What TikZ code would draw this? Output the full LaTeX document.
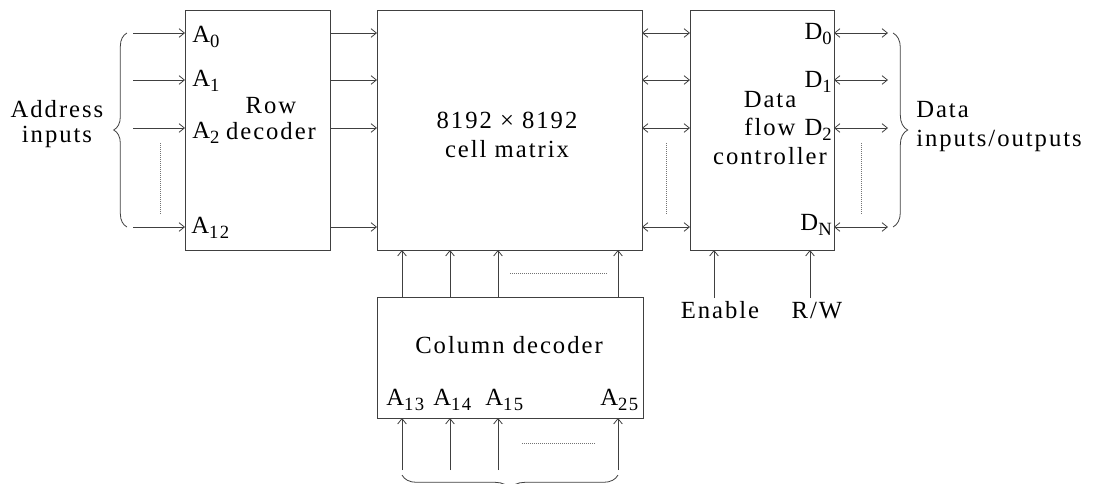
\documentclass[tikz,border=0pt]{standalone}
\usepackage{fontspec}
\setmainfont{Liberation Serif}[LetterSpace=8]
\usetikzlibrary{arrows.meta, decorations.pathreplacing, positioning}
\newcommand\sub[1]{\raisebox{-0.5ex}{\fontsize{14}{14}\selectfont #1}}

\begin{document}
\begin{tikzpicture}[x=0.75pt, y=-0.75pt, font=\fontsize{18.5}{20}\selectfont,
    >={Straight Barb[length=4pt, width=6.5pt]}]
    \tikzset{
        blk/.style={draw=black!75, line width=0.7pt, inner sep=0pt, outer sep=0pt},
        arr/.style={->, draw=black!75, line width=0.6pt},
        darr/.style={<->, draw=black!75, line width=0.6pt},
        dots/.style={densely dotted, draw=black!55, line width=0.5pt},
        brc/.style={decorate, decoration={brace, amplitude=#1}, draw=black!75, line width=0.6pt},
        lbl/.style={inner sep=0pt, anchor=base west},
        rlbl/.style={inner sep=0pt, anchor=base east},
        txt/.style={inner sep=0pt, align=center},
    }
    \useasboundingbox (0,0) rectangle (1101,483);

    \node[blk, minimum width=108.75pt, minimum height=180pt] (rowdec) at (257.5,130) {};
    \node[blk, minimum width=198.75pt, minimum height=180pt] (mat) at (509.5,130) {};
    \node[blk, minimum width=108pt, minimum height=180pt] (ctrl) at (762,130) {};
    \node[blk, minimum width=199.5pt, minimum height=90.75pt] (col) at (510,357.5) {};

    \node[txt, font=\fontsize{18.5}{19.5}\selectfont] (rowtxt) at (271,119) {Row\\decoder};
    \node[txt, font=\fontsize{18.5}{21.75}\selectfont] (mattxt) at (507,135) {8192 × 8192\\cell matrix};
    \node[txt, font=\fontsize{18.5}{21.4}\selectfont] (ctrltxt) at (770,128) {Data\\flow\\controller};
    \node[txt, anchor=base] (coltxt) at (509,353) {Column decoder};
    \node[txt, font=\fontsize{18.5}{18.75}\selectfont] (addr) at (57,124) {Address\\inputs};
    \node[txt, align=left, anchor=west, font=\fontsize{18.5}{21.75}\selectfont] (data) at (916,127) {Data\\inputs/outputs};

    \node[lbl] (la0) at (192,42) {A\sub{0}};
    \node[lbl] (la1) at (192,86) {A\sub{1}};
    \node[lbl] (la2) at (192,138) {A\sub{2}};
    \node[lbl] (la12) at (191,233) {A\sub{12}};

    \node[rlbl] (ld0) at (832,39) {D\sub{0}};
    \node[rlbl] (ld1) at (832,87) {D\sub{1}};
    \node[rlbl] (ld2) at (832,135) {D\sub{2}};
    \node[rlbl] (ldn) at (832,230) {D\sub{N}};

    \node[lbl] (la13) at (386,405) {A\sub{13}};
    \node[lbl] (la14) at (433,405) {A\sub{14}};
    \node[lbl] (la15) at (485,405) {A\sub{15}};
    \node[lbl] (la25) at (600,405) {A\sub{25}};

    \node[txt, anchor=base] (en) at (720,318) {Enable};
    \node[txt, anchor=base] (rw) at (817,318) {R/W};

    \coordinate (in0) at (133,33);
    \coordinate (in1) at (133,80);
    \coordinate (in2) at (133,128);
    \coordinate (in3) at (133,227);
    \coordinate (out0) at (888,33);
    \coordinate (out1) at (888,80);
    \coordinate (out2) at (888,128);
    \coordinate (out3) at (888,227);
    \coordinate (c0) at (402,470);
    \coordinate (c1) at (450,470);
    \coordinate (c2) at (498,470);
    \coordinate (c3) at (618,470);
    \coordinate (enin) at (714,298);
    \coordinate (rwin) at (810,298);

    \draw[arr] (in0) -- (in0 -| rowdec.west);
    \draw[arr] (in1) -- (in1 -| rowdec.west);
    \draw[arr] (in2) -- (in2 -| rowdec.west);
    \draw[arr] (in3) -- (in3 -| rowdec.west);

    \draw[arr] (rowdec.east |- in0) -- (mat.west |- in0);
    \draw[arr] (rowdec.east |- in1) -- (mat.west |- in1);
    \draw[arr] (rowdec.east |- in2) -- (mat.west |- in2);
    \draw[arr] (rowdec.east |- in3) -- (mat.west |- in3);

    \draw[darr] (mat.east |- in0) -- (ctrl.west |- in0);
    \draw[darr] (mat.east |- in1) -- (ctrl.west |- in1);
    \draw[darr] (mat.east |- in2) -- (ctrl.west |- in2);
    \draw[darr] (mat.east |- in3) -- (ctrl.west |- in3);

    \draw[darr] (out0 -| ctrl.east) -- (out0);
    \draw[darr] (out1 -| ctrl.east) -- (out1);
    \draw[darr] (out2 -| ctrl.east) -- (out2);
    \draw[darr] (out3 -| ctrl.east) -- (out3);

    \draw[arr] (c0 |- col.north) -- (c0 |- mat.south);
    \draw[arr] (c1 |- col.north) -- (c1 |- mat.south);
    \draw[arr] (c2 |- col.north) -- (c2 |- mat.south);
    \draw[arr] (c3 |- col.north) -- (c3 |- mat.south);

    \draw[arr] (c0) -- (c0 |- col.south);
    \draw[arr] (c1) -- (c1 |- col.south);
    \draw[arr] (c2) -- (c2 |- col.south);
    \draw[arr] (c3) -- (c3 |- col.south);

    \draw[arr] (enin) -- (enin |- ctrl.south);
    \draw[arr] (rwin) -- (rwin |- ctrl.south);

    \draw[dots] (160,143) -- (160,215);
    \draw[dots] (666,143) -- (666,215);
    \draw[dots] (861,143) -- (861,215);
    \draw[dots] (510,273) -- (607,273);
    \draw[dots] (522,443) -- (595,443);

    \draw[brc=10pt] (127,227) -- (127,33);
    \draw[brc=11pt] (893,33) -- (893,227);
    \draw[brc=11pt] (618,475) -- (402,475);
\end{tikzpicture}
\end{document}
